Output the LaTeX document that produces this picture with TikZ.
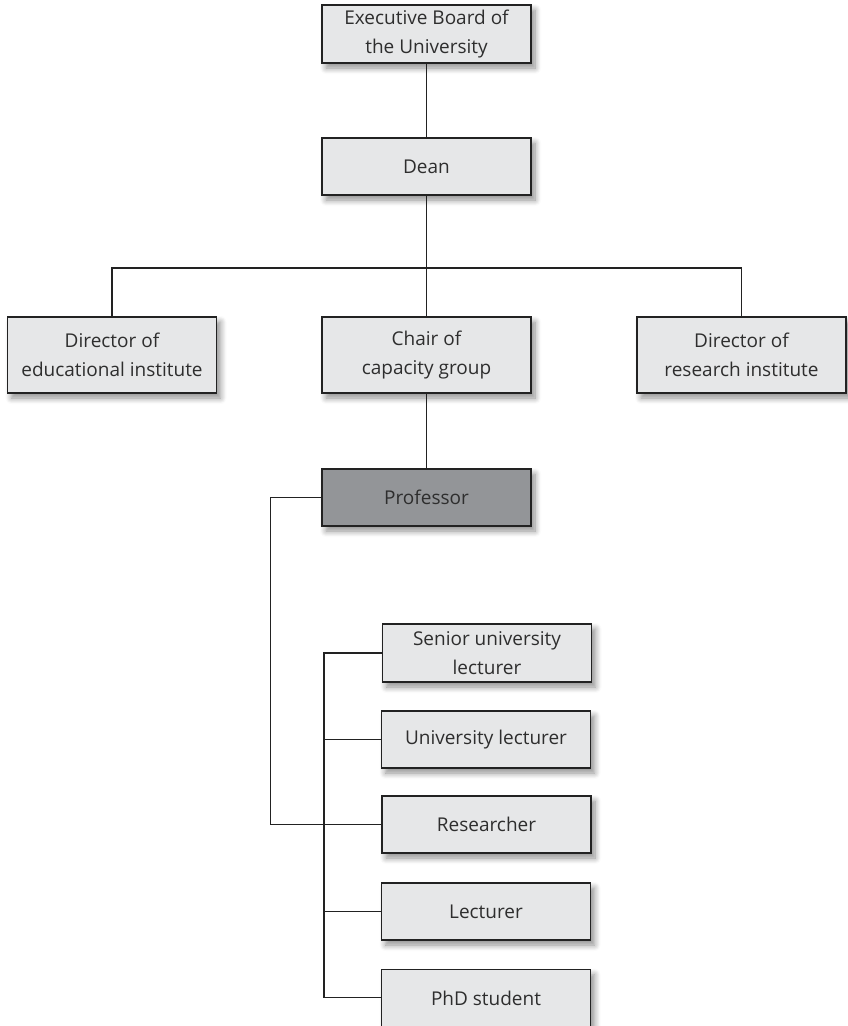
\documentclass[tikz,border=0pt]{standalone}
\usepackage{fontspec}
\setmainfont{Open Sans}
\usetikzlibrary{shadows.blur}
\definecolor{boxgray}{HTML}{E6E7E8}
\definecolor{profgray}{HTML}{939598}
\definecolor{textgray}{HTML}{2E2E2E}
\definecolor{linegray}{HTML}{222222}
\begin{document}
\begin{tikzpicture}[x=1pt,y=-1pt,
  box/.style={draw=linegray, line width=1.4pt, fill=boxgray, minimum width=209pt,
    align=center, font=\fontsize{19}{29}\selectfont, text=textgray, inner sep=0pt,
    blur shadow={shadow xshift=4pt, shadow yshift=-5pt, shadow opacity=45,
      shadow blur steps=8, shadow blur radius=6pt}},
  conn/.style={draw=linegray, line width=1.4pt}]
\useasboundingbox (0,0) rectangle (847,1026);
\node[box, minimum height=58pt] (exec) at (426.5,34) {Executive Board of\\the University};
\node[box, minimum height=57pt] (dean) at (426.5,166.5) {Dean};
\node[box, minimum height=76pt] (edu) at (112,355) {Director of\\educational institute};
\node[box, minimum height=76pt] (chair) at (426.5,355) {Chair of\\capacity group};
\node[box, minimum height=76pt] (res) at (741.5,355) {Director of\\research institute};
\node[box, minimum height=57pt, fill=profgray] (prof) at (426.5,497.5) {Professor};
\node[box, minimum height=58pt] (senior) at (487,653) {Senior university\\lecturer};
\node[box, minimum height=57pt] (ulect) at (486,739.5) {University lecturer};
\node[box, minimum height=57pt] (resr) at (486.5,824.5) {Researcher};
\node[box, minimum height=57pt] (lect) at (486,911.5) {Lecturer};
\node[box, anchor=north, text height=36pt, text depth=40pt] (phd) at (486,969) {PhD student};
\coordinate (phdin) at ([yshift=-28.5pt]phd.north west);
\coordinate (bus) at (426.5,268);
\coordinate (spine) at (324,0);
\draw[conn] (exec.south) -- (dean.north);
\draw[conn] (dean.south) -- (chair.north);
\draw[conn] (edu.north) -- (edu.north |- bus) -- (res.north |- bus) -- (res.north);
\draw[conn] (chair.south) -- (prof.north);
\draw[conn] (prof.west) -- ++(-51,0) |- (resr.west);
\draw[conn] (senior.west) -- (senior.west -| spine) -- (phdin -| spine) -- (phdin);
\draw[conn] (ulect.west) -- (ulect.west -| spine);
\draw[conn] (resr.west) -- (resr.west -| spine);
\draw[conn] (lect.west) -- (lect.west -| spine);
\end{tikzpicture}
\end{document}
